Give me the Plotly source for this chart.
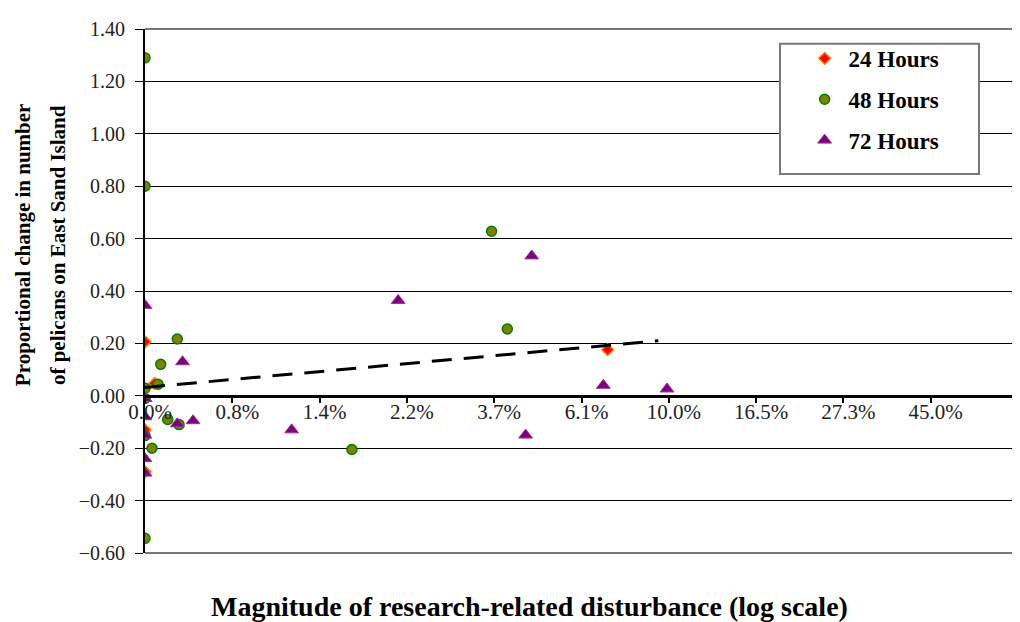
import plotly.graph_objects as go

# === DADOS ===
# x in log-scale axis units (one unit per tick), y = proportional change
tick_pos = [0, 1, 2, 3, 4, 5, 6, 7, 8, 9]
tick_labels = ['0.0%', '0.8%', '1.4%', '2.2%', '3.7%', '6.1%', '10.0%', '16.5%', '27.3%', '45.0%']

x_24h = [0, 0, 0, 0.11, 5.30]
y_24h = [0.206, -0.13, -0.29, 0.047, 0.176]

x_48h = [0, 0, 0, 0, 0, 0, 0.08, 0.15, 0.18, 0.26, 0.37, 0.39, 2.37, 3.97, 4.15]
y_48h = [1.29, 0.80, 0.029, -0.01, -0.152, -0.544, -0.20, 0.044, 0.12, -0.09, 0.217, -0.11, -0.205, 0.628, 0.255]

x_72h = [0, 0, 0, 0, 0, 0, 0.43, 0.37, 0.55, 1.68, 2.90, 4.36, 4.43, 5.25, 5.98]
y_72h = [0.345, -0.01, -0.08, -0.15, -0.24, -0.295, 0.13, -0.107, -0.095, -0.13, 0.364, -0.15, 0.534, 0.04, 0.026]

x_trend = [0, 5.88]
y_trend = [0.032, 0.21]

FONTE = 'Liberation Serif'

# === FIGURA ===
fig = go.Figure()

fig.add_trace(go.Scatter(
    x=x_24h, y=y_24h, mode='markers', name='24 Hours', legendgroup='a',
    marker=dict(symbol='diamond', size=9, color='#FF0000', line=dict(color='#FF8000', width=1.5))
))
fig.add_trace(go.Scatter(
    x=x_48h, y=y_48h, mode='markers', name='48 Hours', legendgroup='b',
    marker=dict(symbol='circle', size=10, color='#808000', line=dict(color='#008000', width=1.5))
))
fig.add_trace(go.Scatter(
    x=x_72h, y=y_72h, mode='markers', name='72 Hours', legendgroup='c',
    marker=dict(symbol='triangle-up', size=12, color='#800080', line=dict(color='#993399', width=1))
))
fig.add_trace(go.Scatter(
    x=x_trend, y=y_trend, mode='lines', showlegend=False,
    line=dict(color='black', width=3, dash='20px,12px')
))

# the page body has an 8px margin, so margins are offset to compensate
fig.update_layout(
    width=1020, height=622,
    margin=dict(l=137, r=10, t=14, b=77),
    paper_bgcolor='white', plot_bgcolor='white',
    font=dict(family=FONTE, size=20, color='#222'),
    showlegend=True,
    legend=dict(
        x=0.751, y=0.985, xanchor='left', yanchor='top',
        borderwidth=0, bgcolor='rgba(0,0,0,0)', itemwidth=38,
        font=dict(family=FONTE, size=23, color='black', weight='bold'),
        traceorder='grouped', tracegroupgap=8,
    ),
    xaxis=dict(
        range=[0, 10], anchor='free', position=0.3,
        tickmode='array', tickvals=tick_pos, ticktext=tick_labels,
        showgrid=False, zeroline=False,
        showline=True, linecolor='black', linewidth=3,
        ticks='outside', ticklen=5, tickwidth=2, tickcolor='black',
        ticklabelshift=5, ticklabelstandoff=-9,
        tickfont=dict(family=FONTE, size=21, color='#222'),
    ),
    yaxis=dict(
        range=[-0.6, 1.4], dtick=0.2, tickformat='.2f',
        showgrid=True, gridcolor='black', gridwidth=1, zeroline=False,
        showline=True, linecolor='black', linewidth=2,
        ticks='outside', ticklen=8, tickwidth=1, tickcolor='black',
        ticklabelstandoff=6,
        tickfont=dict(family=FONTE, size=20, color='#222'),
    ),
)

# moldura cinza (topo, direita, base)
for x0, y0, x1, y1 in [(0, 1, 1, 1), (1, 0, 1, 1), (0, 0, 1, 0)]:
    fig.add_shape(type='line', xref='paper', yref='paper', x0=x0, y0=y0, x1=x1, y1=y1,
                  line=dict(color='#777', width=2), layer='above')

# caixa da legenda
fig.add_shape(type='rect', xref='paper', yref='paper', x0=0.7274, x1=0.9553, y0=0.7232, y1=0.9718,
              line=dict(color='#777', width=2), fillcolor='white', layer='above')

# titulos dos eixos
fig.add_annotation(
    xref='paper', yref='paper', x=-0.1397, y=0.5876, textangle=-90,
    text='<b>Proportional change in number</b>',
    showarrow=False, xanchor='center', yanchor='middle',
    font=dict(family=FONTE, size=21, color='black'),
)
fig.add_annotation(
    xref='paper', yref='paper', x=-0.0997, y=0.5876, textangle=-90,
    text='<b>of pelicans on East Sand Island</b>',
    showarrow=False, xanchor='center', yanchor='middle',
    font=dict(family=FONTE, size=21, color='black'),
)
fig.add_annotation(
    xref='paper', yref='paper', x=0.44, y=-0.1017,
    text='<b>Magnitude of research-related disturbance (log scale)</b>',
    showarrow=False, xanchor='center', yanchor='middle',
    font=dict(family=FONTE, size=28, color='black'),
)

fig.write_html('out.html')
